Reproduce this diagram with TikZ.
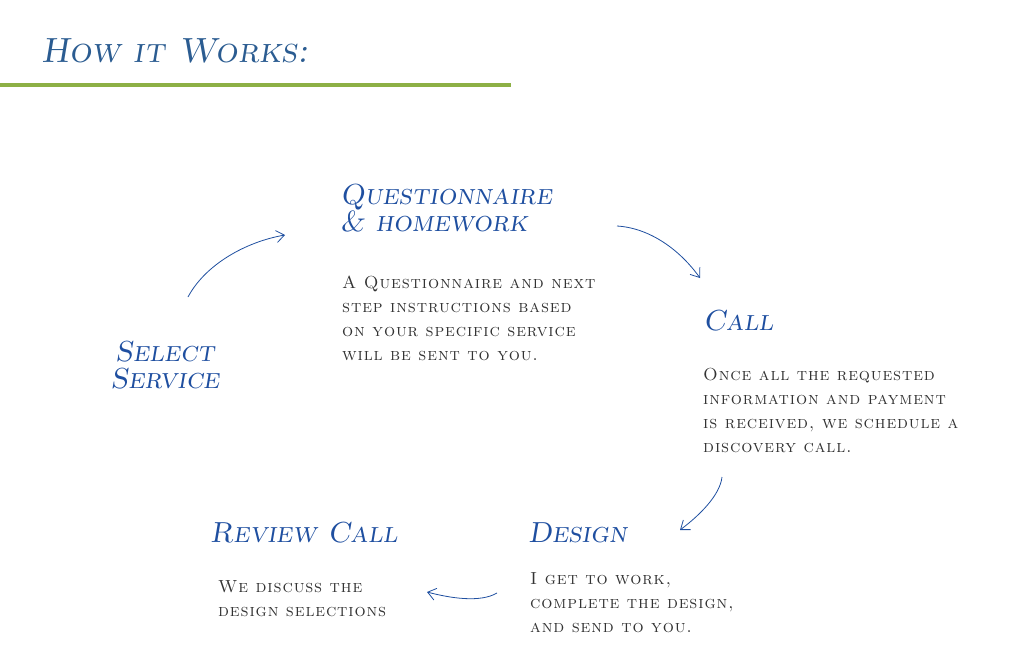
\documentclass[tikz,border=0pt]{standalone}
\usepackage{fontspec}
\newfontfamily\spaced{Latin Modern Roman Caps}[LetterSpace=5]
\usetikzlibrary{arrows.meta}
\definecolor{ttl}{HTML}{2B5C91}
\definecolor{hd}{HTML}{1F4FA0}
\definecolor{grn}{HTML}{8DB045}
\definecolor{bd}{HTML}{333333}
\begin{document}
\begin{tikzpicture}[x=1pt,y=-1pt,
  head/.style={anchor=base west,inner sep=0,text=hd,font=\fontsize{29}{27}\selectfont\itshape\scshape,align=left},
  body/.style={anchor=base west,inner sep=0,text=bd,font=\spaced\fontsize{17.5}{24}\selectfont,align=left},
  arr/.style={draw=hd,line width=0.8pt,-{Straight Barb[length=8pt,width=12pt]}}]
\useasboundingbox (0,0) rectangle (1024,649);
\node[anchor=base west,inner sep=0,text=ttl,font=\fontsize{35}{40}\selectfont\itshape\scshape] (title) at (41,62) {How it Works:};
\draw[grn,line width=4pt] (0,85) coordinate (g1) -- (511,85) coordinate (g2);
\node[head] (q) at (340,231) {Questionnaire\\\& homework};
\node[body] (qb) at (342,360) {A Questionnaire and next\\step instructions based\\on your specific service\\will be sent to you.};
\node[head] (c) at (703,330) {Call};
\node[body] (cb) at (703,452) {Once all the requested\\information and payment\\is received, we schedule a\\discovery call.};
\node[head,anchor=base,align=center] (s) at (165,388) {Select\\Service};
\node[head] (r) at (210,542) {Review Call};
\node[body] (rb) at (218,616) {We discuss the\\design selections};
\node[head] (d) at (528,542) {Design};
\node[body] (db) at (530,632) {I get to work,\\complete the design,\\and send to you.};
\coordinate (a1) at (188,297); \coordinate (a2) at (285,235);
\coordinate (b1) at (617,226); \coordinate (b2) at (700,278);
\coordinate (c1) at (722,477); \coordinate (c2) at (680,530);
\coordinate (d1) at (497,593); \coordinate (d2) at (427,592);
\draw[arr] (a1) .. controls (205,265) and (245,242) .. (a2);
\draw[arr] (b1) .. controls (650,228) and (680,250) .. (b2);
\draw[arr] (c1) .. controls (720,495) and (700,515) .. (c2);
\draw[arr] (d1) .. controls (480,603) and (450,598) .. (d2);
\end{tikzpicture}
\end{document}
